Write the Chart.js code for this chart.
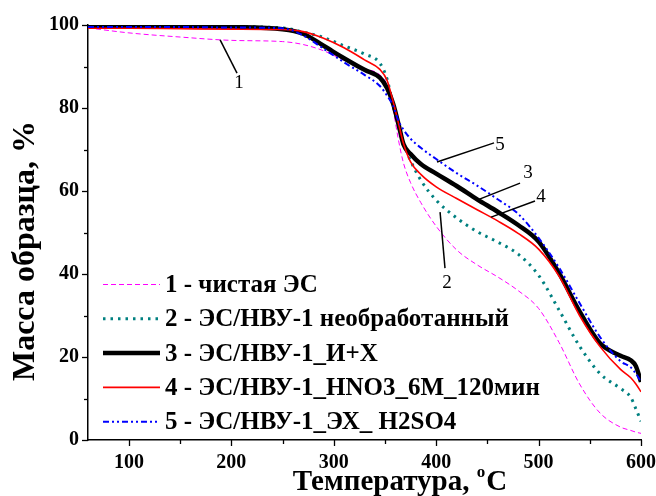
<!DOCTYPE html>
<html><head><meta charset="utf-8">
<style>html,body{margin:0;padding:0;background:#fff}#wrap{width:656px;height:496px;position:relative}</style>
<script src="https://cdn.jsdelivr.net/npm/chart.js@4.4.1/dist/chart.umd.min.js"></script>
</head><body><div id="wrap"><canvas id="c"></canvas></div>
<script>
const temperature = [60,100,150,200,250,270,290,310,330,345,352,358,363,368,375,385,400,420,440,460,480,500,520,540,560,580,590,595,600];
const mass1 = [99.3,98.1,97.1,96.3,96.0,95.3,93.8,91.5,89.5,88.0,85.5,79.5,72.5,66.8,62.0,57.2,51.5,45.8,42.2,39.3,36.0,31.7,23.5,13.5,6.5,3.1,2.3,1.9,1.6];
const mass2 = [99.8,99.8,99.7,99.6,99.3,98.3,97.0,95.0,93.0,90.8,87.0,80.5,75.8,71.5,67.3,62.6,57.8,53.5,50.2,47.7,44.8,39.7,31.3,22.6,16.0,12.4,10.3,7.5,4.5];
const mass3 = [99.6,99.6,99.6,99.5,99.0,97.9,95.0,92.0,89.2,87.3,84.8,81.0,76.3,71.3,68.9,66.5,64.2,61.2,58.0,55.0,51.8,47.8,40.2,31.0,23.3,20.3,19.2,17.8,14.0];
const mass4 = [99.2,99.2,99.1,99.0,98.9,98.4,96.8,94.5,91.6,89.3,86.7,81.5,76.5,71.5,67.0,64.0,61.0,58.2,55.5,52.8,49.8,46.0,39.5,30.0,22.5,17.0,15.0,13.5,11.6];
const mass5 = [99.5,99.5,99.5,99.4,99.2,97.5,94.3,91.0,88.0,85.3,83.0,80.5,77.0,74.8,72.6,70.4,67.7,64.3,61.3,58.0,54.5,48.7,41.5,33.0,24.8,19.0,17.5,16.0,14.0];
const seriesLabels = ["1 - чистая ЭС","2 - ЭС/НВУ-1 необработанный","3 - ЭС/НВУ-1_И+Х","4 - ЭС/НВУ-1_HNO3_6M_120мин","5 - ЭС/НВУ-1_ЭХ_ H2SO4"];
const xTicks = [100,200,300,400,500,600];
const yTicks = [0,20,40,60,80,100];
const xTitle = "Температура, ";
const yTitle = "Масса образца, %";
const curveMarks = [
  {text:"1", from:[189,96.4], to:[205.5,88.4], at:[207.5,86]},
  {text:"2", from:[403.8,54.9], to:[408.6,41.4], at:[410.6,37.8]},
  {text:"3", from:[439.9,57.8], to:[481.9,61.9], at:[489.7,64.3]},
  {text:"4", from:[453.6,53.7], to:[496.5,57.6], at:[502.4,58.6]},
  {text:"5", from:[400.8,67.0], to:[456.5,71.6], at:[462.3,71.1]}
];

const SERIF = '"Liberation Serif","Times New Roman",serif';
const styles = [
  {color:'#FF00FF', width:1, dash:[5,3]},
  {color:'#008080', width:3, dash:[2.5,5]},
  {color:'#000000', width:4.5, dash:[]},
  {color:'#FF0000', width:1.6, dash:[]},
  {color:'#0000FF', width:2, dash:[6,3,2,3,2,3]}
];
const allMass = [mass1,mass2,mass3,mass4,mass5];
const datasets = allMass.map((m,i)=>({
  label: seriesLabels[i],
  data: temperature.map((t,j)=>({x:t,y:m[j]})),
  borderColor: styles[i].color,
  borderWidth: styles[i].width,
  borderDash: styles[i].dash,
  pointRadius: 0,
  fill: false,
  cubicInterpolationMode: 'monotone',
  order: 5 - i
}));

const decor = {
  id:'decor',
  afterDraw(chart){
    const ctx = chart.ctx, xs = chart.scales.x, ys = chart.scales.y;
    const ca = chart.chartArea;
    ctx.save();
    ctx.strokeStyle = '#000'; ctx.lineWidth = 1.3; ctx.setLineDash([]);
    for (let v = 100; v <= 600; v += 50) {
      const px = Math.round(xs.getPixelForValue(v)) + 0.5;
      const len = v % 100 === 0 ? 6 : 4;
      ctx.beginPath(); ctx.moveTo(px, ca.bottom); ctx.lineTo(px, ca.bottom + len); ctx.stroke();
    }
    for (let v = 0; v <= 100; v += 10) {
      const py = Math.round(ys.getPixelForValue(v)) + 0.5;
      const len = v % 20 === 0 ? 6 : 4;
      ctx.beginPath(); ctx.moveTo(ca.left, py); ctx.lineTo(ca.left - len, py); ctx.stroke();
    }
    ctx.lineWidth = 1.5;
    ctx.font = '19px ' + SERIF; ctx.fillStyle = '#000';
    ctx.textAlign = 'center'; ctx.textBaseline = 'middle';
    curveMarks.forEach(m=>{
      ctx.beginPath();
      ctx.moveTo(xs.getPixelForValue(m.from[0]), ys.getPixelForValue(m.from[1]));
      ctx.lineTo(xs.getPixelForValue(m.to[0]), ys.getPixelForValue(m.to[1]));
      ctx.stroke();
      ctx.fillText(m.text, xs.getPixelForValue(m.at[0]), ys.getPixelForValue(m.at[1]));
    });
    const lx0 = 103, lx1 = 160, ly0 = 284.5, lstep = 34.3;
    ctx.textAlign = 'left';
    ctx.font = 'bold 25px ' + SERIF;
    chart.data.datasets.forEach((d,i)=>{
      const y = ly0 + i*lstep;
      ctx.strokeStyle = d.borderColor; ctx.lineWidth = d.borderWidth; ctx.setLineDash(d.borderDash);
      ctx.beginPath(); ctx.moveTo(lx0, y); ctx.lineTo(lx1, y); ctx.stroke();
      ctx.fillStyle = '#000';
      ctx.fillText(d.label, 165, y + 1);
    });
    ctx.setLineDash([]);
    ctx.fillStyle = '#000';
    ctx.textBaseline = 'alphabetic';
    ctx.font = 'bold 29px ' + SERIF;
    const w1 = ctx.measureText(xTitle).width;
    ctx.font = 'bold 17px ' + SERIF; const wo = ctx.measureText('o').width;
    ctx.font = 'bold 29px ' + SERIF; const wc = ctx.measureText('C').width;
    const total = w1 + wo + wc + 1;
    let sx = 400 - total/2;
    const by = 490;
    ctx.textAlign = 'left';
    ctx.fillText(xTitle, sx, by);
    ctx.font = 'bold 17px ' + SERIF;
    ctx.fillText('o', sx + w1, by - 13);
    ctx.font = 'bold 29px ' + SERIF;
    ctx.fillText('C', sx + w1 + wo + 1, by);
    ctx.font = 'bold 32px ' + SERIF;
    ctx.translate(34, 251);
    ctx.rotate(-Math.PI/2);
    ctx.textAlign = 'center'; ctx.textBaseline = 'alphabetic';
    ctx.fillText(yTitle, 0, 0);
    ctx.restore();
  }
};

new Chart(document.getElementById('c'), {
  type: 'line',
  data: { datasets },
  options: {
    responsive: true, maintainAspectRatio: false, animation: false,
    devicePixelRatio: 1,
    layout: { padding: { top: 25, right: 15, left: 0, bottom: 0 } },
    plugins: { legend: { display: false }, tooltip: { enabled: false } },
    scales: {
      x: {
        type: 'linear', min: 60, max: 600,
        afterBuildTicks: s => { s.ticks = xTicks.map(v=>({value:v})); },
        afterFit: s => { s.height = 56; s.paddingRight = 0; s.paddingLeft = 0; },
        grid: { display: false, drawTicks: false },
        border: { display: true, color: '#000', width: 1.5 },
        ticks: { color: '#000', padding: 11, maxRotation: 0, font: { family: SERIF, size: 20, weight: 'bold' } }
      },
      y: {
        min: 0, max: 100,
        afterBuildTicks: s => { s.ticks = yTicks.map(v=>({value:v})); },
        afterFit: s => { s.width = 88; s.paddingTop = 0; s.paddingBottom = 0; },
        grid: { display: false, drawTicks: false },
        border: { display: true, color: '#000', width: 1.5 },
        ticks: { color: '#000', padding: 9, font: { family: SERIF, size: 20, weight: 'bold' } }
      }
    }
  },
  plugins: [decor]
});
</script></body></html>
